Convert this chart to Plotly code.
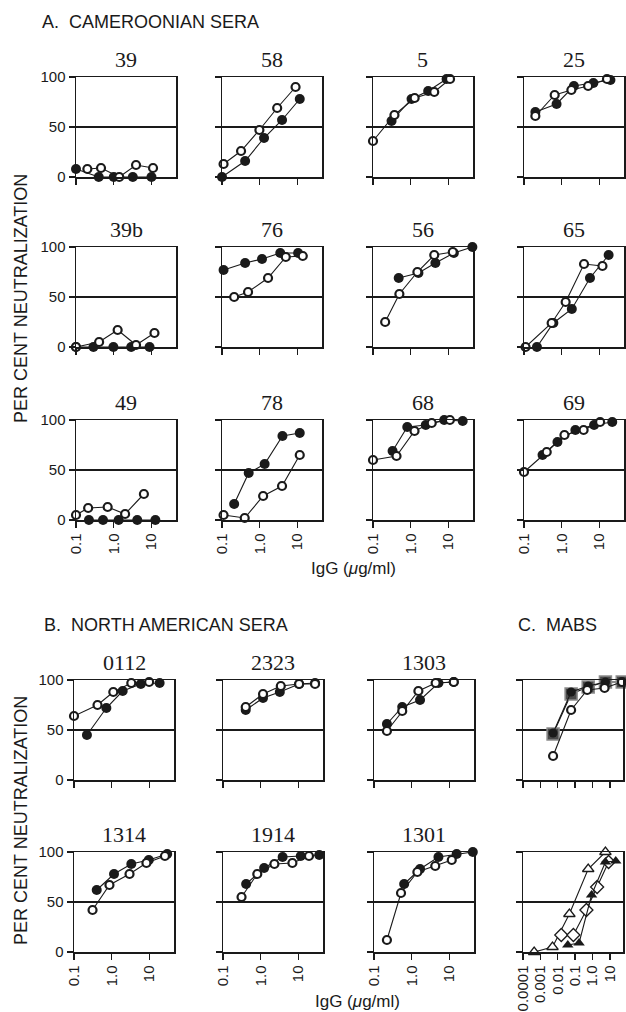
import plotly.graph_objects as go

W, H = 626, 1012

# ---------------- data: A. Cameroonian sera ----------------
p39_filled_x = [0.1, 0.4, 1.0, 3.2, 10]
p39_filled_y = [8, 0, 0, 0, 0]
p39_open_x = [0.2, 0.46, 1.4, 3.9, 11]
p39_open_y = [8, 9, 0, 12, 9]

p58_filled_x = [0.1, 0.41, 1.3, 3.9, 11.5]
p58_filled_y = [0, 16, 39, 57, 78]
p58_open_x = [0.11, 0.32, 0.98, 2.9, 8.9]
p58_open_y = [13, 26, 47, 69, 90]

p5_filled_x = [0.31, 1.05, 2.9, 8.9]
p5_filled_y = [56, 78, 86, 98]
p5_open_x = [0.1, 0.37, 1.27, 4.2, 11]
p5_open_y = [36, 62, 79, 85, 98]

p25_filled_x = [0.2, 0.73, 2.1, 6.9, 19.5]
p25_filled_y = [65, 73, 91, 94, 97]
p25_open_x = [0.2, 0.65, 1.8, 5.0, 15.8]
p25_open_y = [61, 82, 87, 91, 98]

p39b_filled_x = [0.1, 0.29, 0.98, 2.9, 8.9]
p39b_filled_y = [0, 0, 0, 0, 0]
p39b_open_x = [0.1, 0.41, 1.27, 3.9, 12]
p39b_open_y = [0, 5, 17, 2, 14]

p76_filled_x = [0.11, 0.41, 1.15, 3.5, 10.4]
p76_filled_y = [77, 84, 88, 94, 94]
p76_open_x = [0.21, 0.49, 1.66, 4.9, 13.8]
p76_open_y = [50, 55, 69, 90, 91]

p56_filled_x = [0.48, 1.6, 4.5, 13.9, 43]
p56_filled_y = [69, 74, 84, 94, 100]
p56_open_x = [0.21, 0.5, 1.5, 4.2, 13]
p56_open_y = [25, 53, 75, 92, 95]

p65_filled_x = [0.22, 0.6, 1.85, 5.6, 17.5]
p65_filled_y = [0, 24, 38, 69, 92]
p65_open_x = [0.11, 0.54, 1.27, 3.9, 12]
p65_open_y = [0, 24, 45, 83, 81]

p49_filled_x = [0.22, 0.52, 1.35, 4.2, 12.7]
p49_filled_y = [0, 0, 0, 0, 0]
p49_open_x = [0.1, 0.21, 0.69, 2.0, 6.3]
p49_open_y = [5, 12, 13, 6, 26]

p78_filled_x = [0.21, 0.51, 1.35, 4.0, 11.5]
p78_filled_y = [16, 47, 56, 84, 87]
p78_open_x = [0.11, 0.4, 1.23, 3.9, 11.5]
p78_open_y = [5, 2, 24, 34, 65]

p68_filled_x = [0.33, 0.81, 2.5, 7.7, 23.8]
p68_filled_y = [69, 93, 95, 100, 99]
p68_open_x = [0.1, 0.42, 1.26, 3.6, 10.9]
p68_open_y = [60, 64, 89, 97, 100]

p69_filled_x = [0.31, 0.77, 2.3, 7.2, 21.8]
p69_filled_y = [65, 78, 90, 95, 98]
p69_open_x = [0.1, 0.4, 1.18, 3.8, 10.4]
p69_open_y = [48, 68, 85, 90, 98]

# ---------------- data: B. North American sera ----------------
p0112_filled_x = [0.22, 0.72, 1.95, 5.9, 18.6]
p0112_filled_y = [45, 72, 89, 96, 97]
p0112_open_x = [0.1, 0.42, 1.1, 3.3, 9.8]
p0112_open_y = [64, 75, 88, 97, 98]

p2323_filled_x = [0.4, 1.15, 3.2, 10.4, 27.5]
p2323_filled_y = [70, 82, 88, 96, 97]
p2323_open_x = [0.4, 1.15, 3.4, 10.4, 27.5]
p2323_open_y = [73, 86, 94, 96, 96]

p1303_filled_x = [0.22, 0.56, 1.66, 5.1, 13]
p1303_filled_y = [56, 73, 80, 97, 98]
p1303_open_x = [0.22, 0.56, 1.5, 4.3, 13]
p1303_open_y = [49, 69, 89, 97, 98]

p1314_filled_x = [0.4, 1.15, 3.3, 9.6, 29.5]
p1314_filled_y = [62, 78, 88, 92, 98]
p1314_open_x = [0.31, 0.87, 2.96, 8.3, 25.7]
p1314_open_y = [42, 67, 78, 89, 96]

p1914_filled_x = [0.41, 1.23, 3.8, 11.5, 35.5]
p1914_filled_y = [68, 84, 95, 96, 97]
p1914_open_x = [0.31, 0.81, 2.3, 6.9, 19]
p1914_open_y = [55, 78, 88, 89, 96]

p1301_filled_x = [0.63, 1.66, 5.1, 15.5, 41.6]
p1301_filled_y = [68, 83, 95, 98, 100]
p1301_open_x = [0.22, 0.52, 1.41, 4.2, 11.5]
p1301_open_y = [12, 59, 80, 86, 92]

# ---------------- data: C. MAbs ----------------
mab1_square_x = [0.0054, 0.059, 0.57, 5.6, 52]
mab1_square_y = [46, 86, 93, 98, 98]
mab1_filled_x = [0.0054, 0.059, 0.57, 5.6]
mab1_filled_y = [47, 88, 94, 98]
mab1_open_x = [0.0054, 0.059, 0.5, 5.0, 50]
mab1_open_y = [24, 70, 90, 92, 98]

mab2_open_tri_x = [0.00044, 0.005, 0.047, 0.57, 5.6]
mab2_open_tri_y = [0, 5, 38, 83, 100]
mab2_diamond_x = [0.016, 0.08, 0.45, 1.86, 8.5]
mab2_diamond_y = [17, 17, 42, 65, 90]
mab2_filled_tri_x = [0.038, 0.17, 0.89, 5.6, 22]
mab2_filled_tri_y = [7, 9, 57, 90, 91]

sera_ticks = [0.1, 1, 10]
sera_ticktext = ["0.1", "1.0", "10"]
mab_ticks = [0.0001, 0.001, 0.01, 0.1, 1, 10]
mab_ticktext = ["0.0001", "0.001", "0.01", "0.1", "1.0", "10"]
y_ticks = [0, 50, 100]

# panels: (title, filled_x, filled_y, open_x, open_y, section, row, col)
sera_panels = [
    ("39", p39_filled_x, p39_filled_y, p39_open_x, p39_open_y, "A", 0, 0),
    ("58", p58_filled_x, p58_filled_y, p58_open_x, p58_open_y, "A", 0, 1),
    ("5", p5_filled_x, p5_filled_y, p5_open_x, p5_open_y, "A", 0, 2),
    ("25", p25_filled_x, p25_filled_y, p25_open_x, p25_open_y, "A", 0, 3),
    ("39b", p39b_filled_x, p39b_filled_y, p39b_open_x, p39b_open_y, "A", 1, 0),
    ("76", p76_filled_x, p76_filled_y, p76_open_x, p76_open_y, "A", 1, 1),
    ("56", p56_filled_x, p56_filled_y, p56_open_x, p56_open_y, "A", 1, 2),
    ("65", p65_filled_x, p65_filled_y, p65_open_x, p65_open_y, "A", 1, 3),
    ("49", p49_filled_x, p49_filled_y, p49_open_x, p49_open_y, "A", 2, 0),
    ("78", p78_filled_x, p78_filled_y, p78_open_x, p78_open_y, "A", 2, 1),
    ("68", p68_filled_x, p68_filled_y, p68_open_x, p68_open_y, "A", 2, 2),
    ("69", p69_filled_x, p69_filled_y, p69_open_x, p69_open_y, "A", 2, 3),
    ("0112", p0112_filled_x, p0112_filled_y, p0112_open_x, p0112_open_y, "B", 0, 0),
    ("2323", p2323_filled_x, p2323_filled_y, p2323_open_x, p2323_open_y, "B", 0, 1),
    ("1303", p1303_filled_x, p1303_filled_y, p1303_open_x, p1303_open_y, "B", 0, 2),
    ("1314", p1314_filled_x, p1314_filled_y, p1314_open_x, p1314_open_y, "B", 1, 0),
    ("1914", p1914_filled_x, p1914_filled_y, p1914_open_x, p1914_open_y, "B", 1, 1),
    ("1301", p1301_filled_x, p1301_filled_y, p1301_open_x, p1301_open_y, "B", 1, 2),
]

# ---------------- layout geometry (pixels) ----------------
A_lefts = [76, 222, 373, 524]
A_tops = [77, 247, 420]
B_lefts = [74, 223, 374, 523]
B_tops = [680, 852]
PW, PH = 100, 100

INK = "#1a1a1a"
SANS = "Liberation Sans, Arial, sans-serif"
SERIF = "Liberation Serif, Times New Roman, serif"

fig = go.Figure()
layout = {}
annotations = []


def px_dom_x(left, w):
    return [left / W, min(1.0, (left + w) / W)]


def px_dom_y(top, h):
    return [1 - (top + h) / H, 1 - top / H]


def add_axes(idx, left, top, xrange_log, tickvals, ticktext, show_x, show_y):
    sfx = "" if idx == 1 else str(idx)
    layout["xaxis" + sfx] = dict(
        domain=px_dom_x(left, PW), anchor="y" + sfx, type="log",
        range=xrange_log, tickvals=tickvals, ticktext=ticktext,
        ticks="outside", ticklen=6, tickwidth=1.5, tickcolor=INK,
        showline=True, linecolor=INK, linewidth=1.5, mirror=True,
        showgrid=False, zeroline=False, showticklabels=show_x,
        tickangle=-90, tickfont=dict(family=SANS, size=15, color=INK),
        automargin=False, fixedrange=True,
    )
    layout["yaxis" + sfx] = dict(
        domain=px_dom_y(top, PH), anchor="x" + sfx, range=[0, 100],
        tickvals=y_ticks, ticks="outside", ticklen=6, tickwidth=1.5,
        tickcolor=INK, showline=True, linecolor=INK, linewidth=1.5,
        mirror=True, showgrid=True, gridcolor=INK, gridwidth=1.5,
        zeroline=False, showticklabels=show_y,
        tickfont=dict(family=SANS, size=15, color=INK),
        automargin=False, fixedrange=True,
    )
    return "x" + sfx, "y" + sfx


def line_marker_trace(xs, ys, xa, ya, symbol, fill, lcol, lw, size):
    return go.Scatter(
        x=xs, y=ys, xaxis=xa, yaxis=ya, mode="lines+markers",
        line=dict(color=INK, width=1.1),
        marker=dict(symbol=symbol, size=size, color=fill,
                    line=dict(color=lcol, width=lw)),
        cliponaxis=False, showlegend=False, hoverinfo="skip",
    )


idx = 0
for title, fx, fy, ox, oy, sec, r, c in sera_panels:
    idx += 1
    if sec == "A":
        left, top = A_lefts[c], A_tops[r]
        bottom_row = r == 2
    else:
        left, top = B_lefts[c], B_tops[r]
        bottom_row = r == 1
    xa, ya = add_axes(idx, left, top, [-1, 1.65], sera_ticks, sera_ticktext,
                      bottom_row, c == 0)
    fig.add_trace(line_marker_trace(fx, fy, xa, ya, "circle", INK, INK, 0, 10))
    fig.add_trace(line_marker_trace(ox, oy, xa, ya, "circle", "white", INK, 2.2, 8))
    annotations.append(dict(
        text=title, x=(left + PW / 2) / W, y=1 - (top - 3) / H,
        xref="paper", yref="paper", xanchor="center", yanchor="bottom",
        showarrow=False, font=dict(family=SERIF, size=22, color=INK)))

# MAb panels
idx += 1
xa, ya = add_axes(idx, B_lefts[3], B_tops[0], [-4, 1.76], mab_ticks,
                  mab_ticktext, False, False)
fig.add_trace(line_marker_trace(mab1_square_x, mab1_square_y, xa, ya,
                                "square", "#4a4a4a", "#8c8c8c", 1.5, 12))
fig.add_trace(line_marker_trace(mab1_filled_x, mab1_filled_y, xa, ya,
                                "circle", INK, INK, 0, 9))
fig.add_trace(line_marker_trace(mab1_open_x, mab1_open_y, xa, ya,
                                "circle", "white", INK, 2.2, 8))

idx += 1
xa, ya = add_axes(idx, B_lefts[3], B_tops[1], [-4, 1.76], mab_ticks,
                  mab_ticktext, True, False)
fig.add_trace(line_marker_trace(mab2_open_tri_x, mab2_open_tri_y, xa, ya,
                                "triangle-up", "white", INK, 1.3, 10))
fig.add_trace(line_marker_trace(mab2_diamond_x, mab2_diamond_y, xa, ya,
                                "diamond", "white", INK, 1.3, 10))
fig.add_trace(line_marker_trace(mab2_filled_tri_x, mab2_filled_tri_y, xa, ya,
                                "triangle-up", INK, INK, 0, 10))

# section titles
for txt, xpx, ypx in [("A.  CAMEROONIAN SERA", 40, 22),
                      ("B.  NORTH AMERICAN SERA", 42, 625),
                      ("C.  MABS", 516, 625)]:
    annotations.append(dict(
        text=txt, x=xpx / W, y=1 - ypx / H, xref="paper", yref="paper",
        xanchor="left", yanchor="middle", showarrow=False,
        font=dict(family=SANS, size=18, color=INK)))

# axis titles
for ycen in [299, 821]:
    annotations.append(dict(
        text="PER CENT NEUTRALIZATION", x=21 / W, y=1 - ycen / H,
        xref="paper", yref="paper", xanchor="center", yanchor="middle",
        textangle=-90, showarrow=False,
        font=dict(family=SANS, size=18, color=INK)))
for xcen, ycen in [(353, 568), (357, 1001)]:
    annotations.append(dict(
        text="IgG (<i>\u03bc</i>g/ml)", x=xcen / W, y=1 - ycen / H,
        xref="paper", yref="paper", xanchor="center", yanchor="middle",
        showarrow=False, font=dict(family=SANS, size=17, color=INK)))

fig.update_layout(
    width=W, height=H,
    margin=dict(l=0, r=0, t=0, b=0, pad=0, autoexpand=False),
    paper_bgcolor="white", plot_bgcolor="white",
    annotations=annotations, showlegend=False, **layout,
)

fig.write_html(
    "out.html",
    config={"displayModeBar": False, "staticPlot": True},
    post_script="document.body.style.margin='0';document.body.style.overflow='hidden';",
)
